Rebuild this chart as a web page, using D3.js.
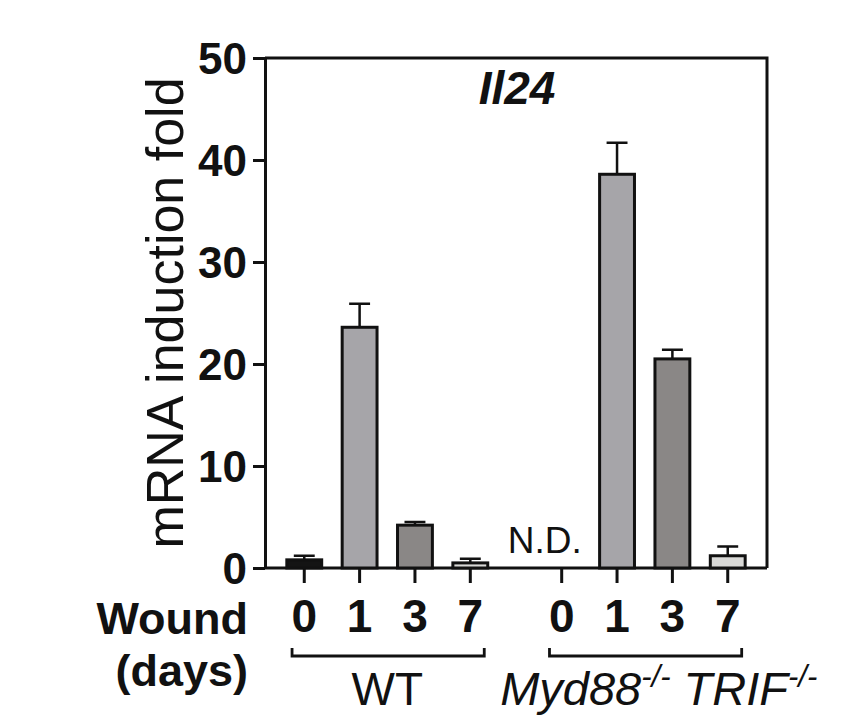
<!DOCTYPE html>
<html>
<head>
<meta charset="utf-8">
<script src="https://cdn.jsdelivr.net/npm/d3@7"></script>
<style>
  body { margin: 0; background: #fff; }
  svg { display: block; }
</style>
</head>
<body>
<div id="chart"></div>
<script>

var days = ["0", "1", "3", "7"]

var groups = ["WT", "Myd88"]

var wtMean = [0.8, 23.6, 4.2, 0.5]

var wtErr = [0.4, 2.3, 0.3, 0.4]

var mydMean = [null, 38.6, 20.5, 1.2]

var mydErr = [null, 3.1, 0.9, 0.9]

var barColors = ["#141414", "#a6a5a9", "#8a8786", "#d9d9d7"]

var yTicks = [0, 10, 20, 30, 40, 50]

var width = 860

var height = 724

var margin = { top: 58, right: 93, bottom: 156, left: 265 }

var font = "'Liberation Sans', Arial, Helvetica, sans-serif"

// one row per bar
var rows = []

groups.forEach((g, gi) => {

	var means = gi == 0 ? wtMean : mydMean

	var errs = gi == 0 ? wtErr : mydErr

	days.forEach((d, i) => {

		rows.push({ group: g, day: d, value: means[i], err: errs[i], color: barColors[i] })

	})
})

var svg = d3.select("#chart")
	.append("svg")
	.attr("width", width)
	.attr("height", height)
	.attr("viewBox", `0 0 ${width} ${height}`)

var x0 = d3.scaleBand()
	.domain(groups)
	.range([margin.left, width - margin.right])
	.paddingInner(0.14)
	.paddingOuter(0.045)

var x1 = d3.scaleBand()
	.domain(days)
	.range([0, x0.bandwidth()])
	.paddingInner(0.37)
	.paddingOuter(0.185)

var y = d3.scaleLinear()
	.domain([0, 50])
	.range([height - margin.bottom, margin.top])

var bx = d => x0(d.group) + x1(d.day)

var cx = d => bx(d) + x1.bandwidth() / 2

// frame: top and right
svg.append("path")
	.attr("d", `M${margin.left},${y(50)}H${width - margin.right}V${y(0)}`)
	.attr("fill", "none")
	.attr("stroke", "#111")
	.attr("stroke-width", 3)

// y axis
var yAxis = svg.append("g")
	.attr("transform", `translate(${margin.left},0)`)
	.call(d3.axisLeft(y).tickValues(yTicks).tickSize(12).tickSizeOuter(0).tickPadding(6))

yAxis.select(".domain").attr("stroke", "#111").attr("stroke-width", 3)

yAxis.selectAll(".tick line").attr("stroke", "#111").attr("stroke-width", 3)

yAxis.selectAll(".tick text")
	.attr("fill", "#111")
	.attr("font-family", font)
	.attr("font-weight", "bold")
	.attr("font-size", 44)
	.attr("dy", "0.35em")

// x axis line
svg.append("line")
	.attr("x1", margin.left)
	.attr("x2", width - margin.right)
	.attr("y1", y(0))
	.attr("y2", y(0))
	.attr("stroke", "#111")
	.attr("stroke-width", 3)

// error bars (upward only)
var errRows = rows.filter(d => d.value != null)

svg.append("g")
	.attr("stroke", "#111")
	.attr("stroke-width", 2.5)
	.selectAll("path")
	.data(errRows)
	.join("path")
	.attr("fill", "none")
	.attr("d", d => {
		var top = y(d.value + d.err)
		var half = x1.bandwidth() * 0.3
		return `M${cx(d)},${y(d.value)}V${top}M${cx(d) - half},${top}H${cx(d) + half}`
	})

// bars
svg.append("g")
	.selectAll("rect")
	.data(errRows)
	.join("rect")
	.attr("x", d => bx(d))
	.attr("y", d => y(d.value))
	.attr("width", x1.bandwidth())
	.attr("height", d => y(0) - y(d.value))
	.attr("fill", d => d.color)
	.attr("stroke", "#111")
	.attr("stroke-width", 3)

// N.D. label for the missing bar
svg.append("g")
	.selectAll("text")
	.data(rows.filter(d => d.value == null))
	.join("text")
	.attr("x", d => cx(d) - 17)
	.attr("y", y(0) - 15)
	.attr("text-anchor", "middle")
	.attr("font-family", font)
	.attr("font-size", 37)
	.attr("fill", "#111")
	.text("N.D.")

// x ticks and day labels
var xt = svg.append("g")

xt.selectAll("line")
	.data(rows)
	.join("line")
	.attr("x1", cx)
	.attr("x2", cx)
	.attr("y1", y(0))
	.attr("y2", y(0) + 15)
	.attr("stroke", "#111")
	.attr("stroke-width", 3)

xt.selectAll("text")
	.data(rows)
	.join("text")
	.attr("x", cx)
	.attr("y", y(0) + 64)
	.attr("text-anchor", "middle")
	.attr("font-family", font)
	.attr("font-weight", "bold")
	.attr("font-size", 46)
	.attr("fill", "#111")
	.text(d => d.day)

// "Wound (days)"
svg.append("text")
	.attr("x", 248)
	.attr("y", y(0) + 66)
	.attr("text-anchor", "end")
	.attr("font-family", font)
	.attr("font-weight", "bold")
	.attr("font-size", 45)
	.attr("fill", "#111")
	.text("Wound")

svg.append("text")
	.attr("x", 248)
	.attr("y", y(0) + 118)
	.attr("text-anchor", "end")
	.attr("font-family", font)
	.attr("font-weight", "bold")
	.attr("font-size", 45)
	.attr("fill", "#111")
	.text("(days)")

// group brackets
var brackets = svg.append("g")
	.attr("fill", "none")
	.attr("stroke", "#111")
	.attr("stroke-width", 2.8)

groups.forEach(g => {

	var left = x0(g) + x1(days[0]) + x1.bandwidth() * 0.15

	var right = x0(g) + x1(days[days.length - 1]) + x1.bandwidth() * 0.9

	var by = y(0) + 88

	brackets.append("path")
		.attr("d", `M${left},${by - 8}V${by}H${right}V${by - 8}`)
})

// group labels
var gl = svg.append("g")
	.attr("font-family", font)
	.attr("font-size", 46)
	.attr("fill", "#111")

gl.append("text")
	.attr("x", x0("WT") + x0.bandwidth() / 2)
	.attr("y", y(0) + 137)
	.attr("text-anchor", "middle")
	.text("WT")

var myd = gl.append("text")
	.attr("x", x0("Myd88") + x0.bandwidth() / 2 + 14)
	.attr("y", y(0) + 137)
	.attr("text-anchor", "middle")
	.attr("font-style", "italic")
	.attr("font-size", 47)

myd.append("tspan").text("Myd88")

myd.append("tspan").attr("font-size", 31).attr("dy", -18).text("-/-")

myd.append("tspan").attr("dy", 18).text(" TRIF")

myd.append("tspan").attr("font-size", 31).attr("dy", -18).text("-/-")

// gene title
svg.append("text")
	.attr("x", 517)
	.attr("y", 104)
	.attr("text-anchor", "middle")
	.attr("font-family", font)
	.attr("font-weight", "bold")
	.attr("font-style", "italic")
	.attr("font-size", 46)
	.attr("fill", "#111")
	.text("Il24")

// y axis title
svg.append("text")
	.attr("transform", `translate(183,${(y(0) + y(50)) / 2}) rotate(-90)`)
	.attr("text-anchor", "middle")
	.attr("font-family", font)
	.attr("font-size", 52)
	.attr("fill", "#111")
	.text("mRNA induction fold")

</script>
</body>
</html>
